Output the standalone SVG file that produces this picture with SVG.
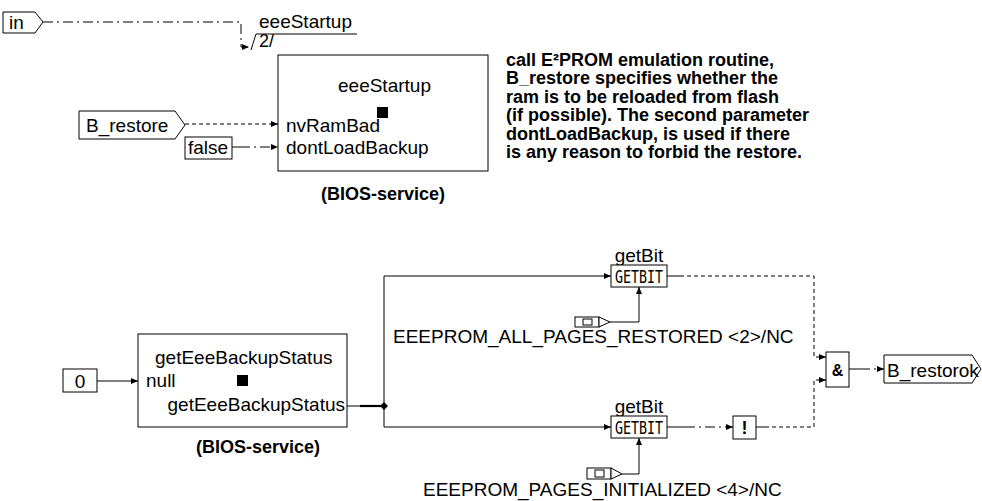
<svg xmlns="http://www.w3.org/2000/svg" width="982" height="501" viewBox="0 0 982 501">
<style>
text{font-family:"Liberation Sans",Arial,sans-serif;fill:#000}
.r{font-size:19px}
.b{font-size:18px;font-weight:bold}
.box{fill:#fff;stroke:#000;stroke-width:1}
.w{fill:none;stroke:#000;stroke-width:1}
.dd{stroke-dasharray:10 4 2 4}
.dt{stroke-dasharray:4 3}
.gb{font-family:"DejaVu Sans Mono","Liberation Mono",monospace;font-size:17px}
</style>
<defs>
<marker id="a" markerWidth="8" markerHeight="7" refX="7" refY="3" orient="auto" markerUnits="userSpaceOnUse">
<path d="M0,0 L7,3 L0,6 z" fill="#000"/>
</marker>
</defs>
<rect width="982" height="501" fill="#fff"/>

<g id="connectors">
<path class="w dd" d="M43,22 H241 V47 H249" marker-end="url(#a)"/>
<path class="w" d="M251,50 L256,34 H357"/>
<path class="w dt" d="M185,124 H278" marker-end="url(#a)"/>
<path class="w" d="M232,147 H240"/>
<path class="w dd" d="M240,147 H278" marker-end="url(#a)"/>
<path class="w" d="M97,381 H138" marker-end="url(#a)"/>
<path class="w" d="M347,406 H360"/>
<path fill="none" stroke="#000" stroke-width="2.2" d="M360,406 H384"/>
<path d="M384,402 L388,406 L384,410 L380,406 z" fill="#000"/>
<path class="w" d="M384,406 V276 H611" marker-end="url(#a)"/>
<path class="w" d="M384,406 V427 H611" marker-end="url(#a)"/>
<path class="w" d="M610,322 H639 V287" marker-end="url(#a)"/>
<path class="w" d="M622,474 H639 V438" marker-end="url(#a)"/>
<path class="w" d="M667,276 H680"/>
<path class="w dt" d="M680,276 H814 V357 H826" marker-end="url(#a)"/>
<path class="w" d="M667,427 H685"/>
<path class="w dd" d="M685,427 H733" marker-end="url(#a)"/>
<path class="w" d="M756,427 H765"/>
<path class="w dt" d="M765,427 H814 V380 H826" marker-end="url(#a)"/>
<path class="w" d="M849,369 H860"/>
<path class="w dd" d="M860,369 H884" marker-end="url(#a)"/>
</g>

<g id="in">
<polygon class="box" points="3,12 35,12 43,22 35,33 3,33"/>
<text class="r" x="9" y="29">in</text>
</g>

<g id="eeeStartupLabel">
<text class="r" x="259" y="28">eeeStartup</text>
<text class="r" x="259" y="47" style="font-size:18px">2/</text>
</g>

<g id="eeeStartup">
<rect class="box" x="278" y="55" width="210" height="116"/>
<text class="r" x="338" y="92">eeeStartup</text>
<rect x="377" y="107" width="11" height="11" fill="#000"/>
<text class="r" x="286" y="132">nvRamBad</text>
<text class="r" x="286" y="154">dontLoadBackup</text>
<text class="b" x="383" y="200" text-anchor="middle">(BIOS-service)</text>
</g>

<g id="B_restore">
<polygon class="box" points="79,111 175,111 185,125 175,139 79,139"/>
<text class="r" x="86" y="132">B_restore</text>
</g>

<g id="false">
<rect class="box" x="185" y="137" width="47" height="22"/>
<text class="r" x="188" y="154">false</text>
</g>

<g id="comment">
<text class="b" x="506" y="66">call E²PROM emulation routine,</text>
<text class="b" x="506" y="84.4">B_restore specifies whether the</text>
<text class="b" x="506" y="102.8">ram is to be reloaded from flash</text>
<text class="b" x="506" y="121.2">(if possible). The second parameter</text>
<text class="b" x="506" y="139.6">dontLoadBackup, is used if there</text>
<text class="b" x="506" y="158">is any reason to forbid the restore.</text>
</g>

<g id="zero">
<rect class="box" x="63" y="369" width="34" height="23"/>
<text class="r" x="80" y="388" text-anchor="middle">0</text>
</g>

<g id="getEeeBackupStatus">
<rect class="box" x="138" y="334" width="209" height="93"/>
<text class="r" x="155" y="364">getEeeBackupStatus</text>
<text class="r" x="146" y="387">null</text>
<rect x="237" y="375" width="11" height="11" fill="#000"/>
<text class="r" x="345" y="411" text-anchor="end">getEeeBackupStatus</text>
<text class="b" x="258" y="453" text-anchor="middle">(BIOS-service)</text>
</g>

<g id="getBit1">
<text class="r" x="639" y="262" text-anchor="middle">getBit</text>
<rect class="box" x="611" y="265" width="56" height="22"/>
<text class="gb" x="639" y="282.5" text-anchor="middle" textLength="48" lengthAdjust="spacingAndGlyphs">GETBIT</text>
</g>

<g id="const1">
<rect class="box" x="575" y="317" width="24" height="10"/>
<rect class="box" x="583" y="319" width="9" height="6"/>
<polygon class="box" points="599,317 610,322 599,327"/>
<text class="r" x="393" y="343">EEEPROM_ALL_PAGES_RESTORED &lt;2&gt;/NC</text>
</g>

<g id="getBit2">
<text class="r" x="639" y="413" text-anchor="middle">getBit</text>
<rect class="box" x="611" y="416" width="56" height="22"/>
<text class="gb" x="639" y="433.5" text-anchor="middle" textLength="48" lengthAdjust="spacingAndGlyphs">GETBIT</text>
</g>

<g id="const2">
<rect class="box" x="587" y="468" width="24" height="11"/>
<rect class="box" x="595" y="470" width="9" height="7"/>
<polygon class="box" points="611,468 622,474 611,479"/>
<text class="r" x="423" y="496">EEEPROM_PAGES_INITIALIZED &lt;4&gt;/NC</text>
</g>

<g id="not">
<rect class="box" x="733" y="416" width="23" height="23"/>
<text class="b" x="744.5" y="434" text-anchor="middle">!</text>
</g>

<g id="and">
<rect class="box" x="826" y="352" width="23" height="35"/>
<text class="b" x="837.5" y="376" text-anchor="middle" style="font-size:16px">&amp;</text>
</g>

<g id="B_restorok">
<polygon class="box" points="884,355 972,355 981,369 972,383 884,383"/>
<text class="r" x="887" y="377">B_restorok</text>
</g>
</svg>
